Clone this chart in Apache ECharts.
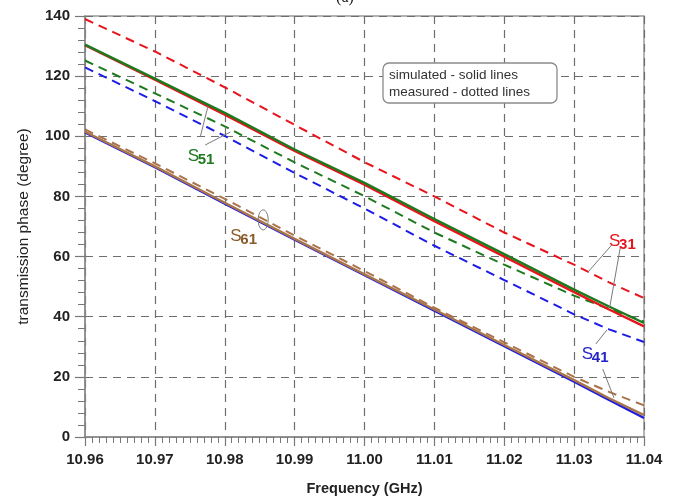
<!DOCTYPE html>
<html>
<head>
<meta charset="utf-8">
<script src="https://cdn.jsdelivr.net/npm/echarts@6/dist/echarts.min.js"></script>
<style>
  html, body { margin: 0; padding: 0; background: #fff; }
  #chart { width: 682px; height: 497px; }
</style>
</head>
<body>
<div id="chart"></div>
<script>
// Frequency sweep (GHz) and transmission phase (degree) of each path
const freqGHz  = [10.96, 10.97, 10.98, 10.99, 11.00, 11.01, 11.02, 11.03, 11.035, 11.04];
const s31Sim   = [130.3, 118.8, 107.2, 95.1, 83.9, 71.8, 60.0, 48.2, 42.4, 36.8];
const s31Meas  = [139.0, 128.2, 116.3, 103.8, 91.4, 80.0, 68.0, 57.3, 51.4, 46.2];
const s41Sim   = [101.3, 89.7, 77.6, 65.6, 53.8, 42.0, 30.2, 18.4, 12.3, 6.3];
const s41Meas  = [122.9, 111.7, 100.1, 87.8, 76.0, 63.6, 52.2, 40.8, 35.8, 31.6];
const s51Sim   = [130.5, 119.2, 107.8, 95.6, 84.5, 72.5, 60.8, 49.0, 43.4, 37.9];
const s51Meas  = [125.2, 114.3, 103.3, 91.3, 80.1, 68.0, 57.3, 47.0, 42.6, 38.4];
const s61Sim   = [101.5, 90.0, 77.9, 65.9, 54.1, 42.4, 30.6, 18.9, 12.9, 7.3];
const s61Meas  = [102.3, 91.0, 79.2, 67.0, 55.2, 43.0, 31.5, 20.0, 15.0, 10.5];

const freqTicks  = [10.96, 10.97, 10.98, 10.99, 11.00, 11.01, 11.02, 11.03, 11.04];
const phaseTicks = [0, 20, 40, 60, 80, 100, 120, 140];

const colors = { s31: '#e8141c', s41: '#1c1ce6', s51: '#1e7a1e', s61: '#a9744a' };
const textFont = 'Arial, "Liberation Sans", sans-serif';

const pairs = (ys) => freqGHz.map((f, i) => [f, ys[i]]);

function simLine(name, ys, color, z) {
  return {
    name, type: 'line', data: pairs(ys), showSymbol: false, z,
    lineStyle: { color, width: 2.4, type: 'solid' }
  };
}
function measLine(name, ys, color, z) {
  return {
    name, type: 'line', data: pairs(ys), showSymbol: false, z,
    lineStyle: { color, width: 2, type: [9, 6] }
  };
}

const chart = echarts.init(document.getElementById('chart'), null, { renderer: 'canvas' });

const gridLine = { show: true, lineStyle: { color: '#6e6e6e', width: 1.2, type: [8, 6] } };

chart.setOption({
  animation: false,
  backgroundColor: '#fff',
  grid: {
    left: 85, right: 38, top: 16, bottom: 60,
    containLabel: false, outerBoundsMode: 'none',
    show: true, borderColor: '#9a9a9a', borderWidth: 1.5
  },
  xAxis: {
    type: 'value',
    min: freqTicks[0], max: freqTicks[freqTicks.length - 1], interval: 0.01,
    name: 'Frequency (GHz)', nameLocation: 'middle', nameGap: 44,
    nameTextStyle: { fontFamily: textFont, fontSize: 14.5, fontWeight: 'bold', color: '#222' },
    axisLine: { show: true, onZero: false, lineStyle: { color: '#8a8a8a', width: 1.5 } },
    axisTick: { show: true, length: 9, lineStyle: { color: '#777', width: 1.2 } },
    minorTick: { show: true, splitNumber: 10, length: 6, lineStyle: { color: '#777', width: 1 } },
    axisLabel: {
      margin: 15, fontFamily: textFont, fontSize: 15, fontWeight: 'bold', color: '#222',
      formatter: (v) => v.toFixed(2)
    },
    splitLine: gridLine
  },
  yAxis: {
    type: 'value',
    min: phaseTicks[0], max: phaseTicks[phaseTicks.length - 1], interval: 20,
    name: 'transmission phase (degree)', nameLocation: 'middle', nameGap: 53, nameRotate: 90,
    nameTextStyle: { fontFamily: textFont, fontSize: 15.5, color: '#222' },
    axisLine: { show: true, lineStyle: { color: '#8a8a8a', width: 1.5 } },
    axisTick: { show: true, length: 10, lineStyle: { color: '#777', width: 1.2 } },
    minorTick: { show: true, splitNumber: 5, length: 7, lineStyle: { color: '#777', width: 1 } },
    axisLabel: { margin: 15, fontFamily: textFont, fontSize: 15, fontWeight: 'bold', color: '#222' },
    splitLine: gridLine
  },
  series: [
    measLine('S31 measured', s31Meas, colors.s31, 3),
    measLine('S51 measured', s51Meas, colors.s51, 3),
    measLine('S41 measured', s41Meas, colors.s41, 3),
    measLine('S61 measured', s61Meas, colors.s61, 3),
    simLine('S31 simulated', s31Sim, colors.s31, 4),
    simLine('S51 simulated', s51Sim, colors.s51, 5),
    simLine('S41 simulated', s41Sim, colors.s41, 4),
    simLine('S61 simulated', s61Sim, colors.s61, 5)
  ]
});

// Port labels, leader lines and the note box, anchored in data space
const px = (f, deg) => chart.convertToPixel({ gridIndex: 0 }, [f, deg]);

function portLabel(sub, color, f, deg) {
  const [x, y] = px(f, deg);
  return [
    { type: 'text', z: 20, style: { text: 'S', x, y, fill: color, font: '17px ' + textFont, verticalAlign: 'top' } },
    { type: 'text', z: 20, style: { text: sub, x: x + 10, y: y + 4, fill: color, font: 'bold 15px ' + textFont, verticalAlign: 'top' } }
  ];
}
function leader(f1, d1, f2, d2) {
  const [x1, y1] = px(f1, d1);
  const [x2, y2] = px(f2, d2);
  return { type: 'line', z: 19, shape: { x1, y1, x2, y2 }, style: { stroke: '#7a7a7a', lineWidth: 1 } };
}

const ring = px(10.9855, 72.2);

chart.setOption({
  graphic: [
    { type: 'text', z: 20, style: { text: '(a)', x: 345, y: -10, align: 'center', verticalAlign: 'top', fill: '#111', font: '16px "Liberation Serif", serif' } },
    { type: 'rect', z: 15, shape: { x: 383, y: 63, width: 174, height: 40, r: 6 }, style: { fill: '#fff', stroke: '#8a8a8a', lineWidth: 1.3 } },
    { type: 'text', z: 16, style: { text: 'simulated - solid lines', x: 389, y: 75, verticalAlign: 'middle', fill: '#333', font: '13.5px ' + textFont } },
    { type: 'text', z: 16, style: { text: 'measured - dotted lines', x: 389, y: 92, verticalAlign: 'middle', fill: '#333', font: '13.5px ' + textFont } },

    ...portLabel('31', colors.s31, 11.035, 67.8),
    leader(11.0354, 63.9, 11.032, 54.9),
    leader(11.0366, 62.9, 11.0351, 43.2),

    ...portLabel('41', '#2323c8', 11.0311, 30.3),
    leader(11.0331, 30.9, 11.0347, 35.6),
    leader(11.0341, 22.6, 11.0357, 13.0),

    ...portLabel('51', colors.s51, 10.9747, 96.1),
    leader(10.9765, 99.8, 10.9776, 110.0),
    leader(10.9772, 97.1, 10.9808, 101.4),

    ...portLabel('61', '#8b5a2b', 10.9808, 69.5),
    { type: 'ellipse', z: 19, shape: { cx: ring[0], cy: ring[1], rx: 5, ry: 10 }, style: { fill: 'none', stroke: '#7a7a7a', lineWidth: 1 } }
  ]
});
</script>
</body>
</html>
